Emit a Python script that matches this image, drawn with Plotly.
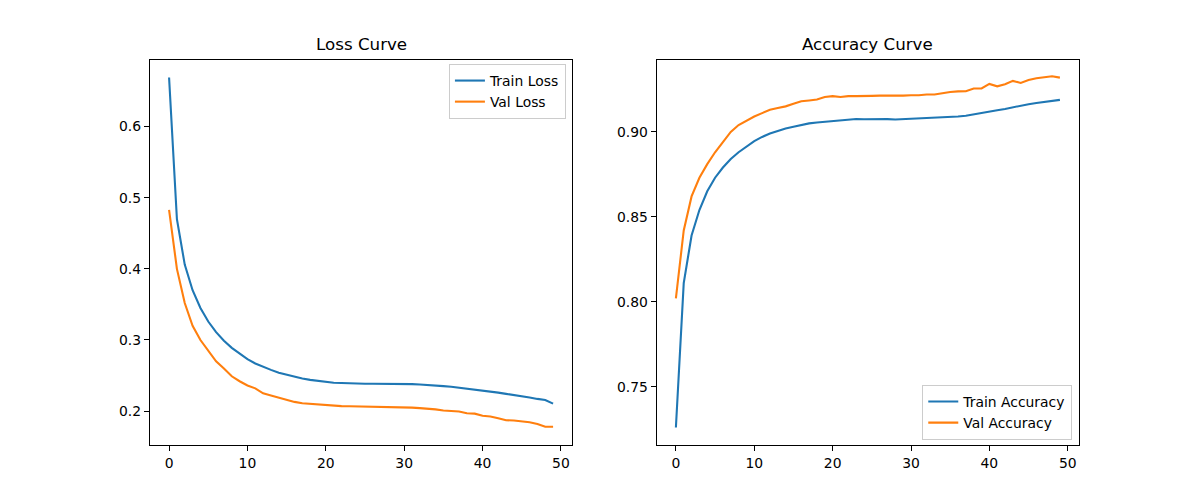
import plotly.graph_objects as go

epochs = list(range(50))

train_loss = [0.669, 0.470, 0.406, 0.370, 0.345, 0.326, 0.311, 0.299, 0.289, 0.281,
              0.273, 0.267, 0.262, 0.258, 0.254, 0.251, 0.248, 0.246, 0.244, 0.2425,
              0.241, 0.240, 0.2395, 0.239, 0.2388, 0.2386, 0.2386, 0.2386, 0.2385, 0.2383,
              0.2382, 0.238, 0.2375, 0.237, 0.2362, 0.2352, 0.2342, 0.233, 0.2315, 0.2302,
              0.229, 0.2275, 0.226, 0.2243, 0.2228, 0.221, 0.2192, 0.2172, 0.2157, 0.2105]

val_loss = [0.483, 0.400, 0.352, 0.320, 0.300, 0.285, 0.270, 0.260, 0.249, 0.242,
            0.236, 0.232, 0.225, 0.222, 0.219, 0.215, 0.213, 0.211, 0.210, 0.209,
            0.208, 0.2075, 0.207, 0.2068, 0.2066, 0.2065, 0.2064, 0.2063, 0.2062, 0.2058,
            0.2054, 0.205, 0.2042, 0.2035, 0.2025, 0.201, 0.1998, 0.1995, 0.197, 0.1965,
            0.1935, 0.1925, 0.190, 0.1872, 0.1868, 0.186, 0.1843, 0.182, 0.178, 0.178]

train_acc = [0.726, 0.811, 0.839, 0.854, 0.865, 0.873, 0.879, 0.884, 0.888, 0.8915,
             0.8945, 0.897, 0.899, 0.9005, 0.902, 0.903, 0.904, 0.905, 0.9055, 0.906,
             0.9065, 0.907, 0.9072, 0.9076, 0.9074, 0.9075, 0.9076, 0.9075, 0.9073, 0.9075,
             0.9077, 0.9078, 0.9079, 0.908, 0.9085, 0.9085, 0.909, 0.9095, 0.9102, 0.911,
             0.912, 0.9127, 0.9135, 0.9145, 0.9153, 0.9163, 0.917, 0.9175, 0.918, 0.9188]

val_acc = [0.802, 0.842, 0.862, 0.873, 0.881, 0.888, 0.894, 0.900, 0.904, 0.9065,
           0.909, 0.911, 0.913, 0.914, 0.915, 0.9165, 0.918, 0.9185, 0.919, 0.9205,
           0.921, 0.9205, 0.921, 0.921, 0.9213, 0.9212, 0.9213, 0.9212, 0.9214, 0.9213,
           0.9215, 0.9215, 0.922, 0.922, 0.9227, 0.9235, 0.9238, 0.9239, 0.9255, 0.9255,
           0.9282, 0.9268, 0.928, 0.930, 0.9288, 0.9305, 0.9315, 0.932, 0.9327, 0.9319]

x_ticks = [0, 10, 20, 30, 40, 50]
loss_ticks = [0.2, 0.3, 0.4, 0.5, 0.6]
acc_ticks = [0.75, 0.80, 0.85, 0.90]

BLUE = "#1f77b4"
ORANGE = "#ff7f0e"
FONT = "DejaVu Sans"

fig = go.Figure()
fig.add_trace(go.Scatter(x=epochs, y=train_loss, mode="lines", name="Train Loss",
                         line=dict(color=BLUE, width=2.1), xaxis="x", yaxis="y", legend="legend"))
fig.add_trace(go.Scatter(x=epochs, y=val_loss, mode="lines", name="Val Loss",
                         line=dict(color=ORANGE, width=2.1), xaxis="x", yaxis="y", legend="legend"))
fig.add_trace(go.Scatter(x=epochs, y=train_acc, mode="lines", name="Train Accuracy",
                         line=dict(color=BLUE, width=2.1), xaxis="x2", yaxis="y2", legend="legend2"))
fig.add_trace(go.Scatter(x=epochs, y=val_acc, mode="lines", name="Val Accuracy",
                         line=dict(color=ORANGE, width=2.1), xaxis="x2", yaxis="y2", legend="legend2"))

axis_common = dict(showline=True, linecolor="black", linewidth=1.1, mirror=True,
                   ticks="outside", ticklen=5, tickwidth=1.1, tickcolor="black",
                   showgrid=False, zeroline=False,
                   tickfont=dict(family=FONT, size=13.9, color="black"))

ydom = [0.1082, 0.8798]
fig.update_layout(
    width=1199, height=499,
    margin=dict(l=0, r=0, t=0, b=0),
    paper_bgcolor="white", plot_bgcolor="white",
    font=dict(family=FONT, color="black"),
    xaxis=dict(domain=[0.125, 0.4773], range=[-2.45, 51.45], tickvals=x_ticks,
               anchor="y", **axis_common),
    yaxis=dict(domain=ydom, range=[0.1524, 0.6936], tickvals=loss_ticks,
               tickformat=".1f", anchor="x", **axis_common),
    xaxis2=dict(domain=[0.5477, 0.9], range=[-2.45, 51.45], tickvals=x_ticks,
                anchor="y2", **axis_common),
    yaxis2=dict(domain=ydom, range=[0.7157, 0.9423], tickvals=acc_ticks,
                tickformat=".2f", anchor="x2", **axis_common),
    legend=dict(x=0.472, y=0.8717, xanchor="right", yanchor="top",
                bgcolor="rgba(255,255,255,0.8)", bordercolor="#cccccc", borderwidth=1,
                font=dict(family=FONT, size=13.9, color="black"), itemwidth=30,
                tracegroupgap=0),
    legend2=dict(x=0.8943, y=0.1182, xanchor="right", yanchor="bottom",
                 bgcolor="rgba(255,255,255,0.8)", bordercolor="#cccccc", borderwidth=1,
                 font=dict(family=FONT, size=13.9, color="black"), itemwidth=30,
                 tracegroupgap=0),
    showlegend=True,
    annotations=[
        dict(text="Loss Curve", x=(0.125 + 0.4773) / 2, y=0.8798, xref="paper", yref="paper",
             xanchor="center", yanchor="bottom", yshift=4, showarrow=False,
             font=dict(family=FONT, size=16.7, color="black")),
        dict(text="Accuracy Curve", x=(0.5477 + 0.9) / 2, y=0.8798, xref="paper", yref="paper",
             xanchor="center", yanchor="bottom", yshift=4, showarrow=False,
             font=dict(family=FONT, size=16.7, color="black")),
    ],
)

fig.write_html("out.html")
